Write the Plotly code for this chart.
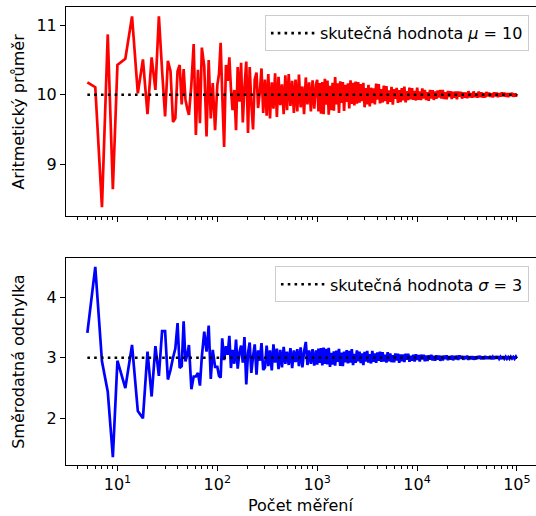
import plotly.graph_objects as go

# ---- data ----
N_MERENI = [5,6,7,8,9,10,12,14,16,18,20,22,24,26,28,30,32,34,36,38,40,42,44,46,48,50,
            52,55,58,61,64,67,70,74,78,82,86,90,95,
            100,104,108,112,117,122,127,132,137,142,148,154,160,167,173,180,187,195,203,211,
            219,228,237,247,256,267,277,288,300,312,324,337,351,365,379,395,410,427,444,462,
            480,499,519,540,562,584,607,632,657,683,711,739,769,799,831,865,899,935,973,
            1000,1030,1061,1093,1126,1159,1194,1230,1267,1305,
            1344,1384,1426,1469,1513,1558,1605,1653,1702,1754,
            1806,1860,1916,1974,2033,2094,2157,2221,2288,2357,
            2427,2500,2575,2652,2732,2814,2898,2985,3075,3167,
            3262,3360,3461,3565,3671,3782,3895,4012,4132,4256,
            4384,4515,4651,4790,4934,5082,5235,5392,5553,5720,
            5891,6068,6250,6438,6631,6830,7034,7245,7463,7687,
            7917,8155,8399,8651,8911,9178,9454,9737,10030,10330,
            10640,10960,11290,11630,11970,12330,12700,13080,13480,13880,
            14300,14730,15170,15620,16090,16570,17070,17580,18110,18650,
            19210,19790,20380,20990,21620,22270,22940,23630,24340,25070,
            25820,26590,27390,28210,29060,29930,30830,31750,32710,33690,
            34700,35740,36810,37920,39050,40230,41430,42680,43960,45280,
            46630,48030,49470,50960,52490,54060,55680,57350,59070,60850,
            62670,64550,66490,68480,70540,72650,74830,77080,79390,81770,
            84230,86750,89360,92040,94800,97640,100000]

PRUMER = [10.18,10.11,8.38,10.87,8.64,10.43,10.52,11.13,10.02,10.51,9.72,10.54,10.07,11.13,10.35,9.69,
          10.49,10.34,9.61,9.66,10.34,10.43,9.86,10.37,9.93,9.80,
          9.71,10.15,10.73,9.42,10.36,9.59,10.68,10.41,9.40,10.50,9.66,10.17,9.49,
          10.14,10.30,10.75,10.02,9.25,10.43,10.20,10.54,10.08,9.78,10.07,9.49,10.40,9.90,10.46,9.60,
          10.10,10.48,9.45,10.40,9.88,9.50,10.22,10.32,9.81,10.05,10.38,9.74,
          10.22,9.70,10.30,9.66,10.18,9.80,10.31,9.68,10.26,9.85,
          10.15,9.72,10.28,9.78,10.30,9.84,10.20,9.74,10.22,9.76,
          10.29,9.82,10.12,9.72,10.25,9.86,10.18,9.76,10.21,9.80,10.15,
          10.215,9.761,10.168,9.729,10.184,9.721,10.231,9.856,10.207,9.713,
          10.131,9.779,10.173,9.772,10.255,9.862,10.166,9.738,10.193,9.883,
          10.184,9.768,10.143,9.899,10.166,9.804,10.208,9.869,10.172,9.846,
          10.190,9.872,10.185,9.887,10.154,9.908,10.174,9.820,10.097,9.861,
          10.142,9.831,10.102,9.880,10.093,9.862,10.160,9.929,10.155,9.876,
          10.081,9.889,10.131,9.908,10.127,9.866,10.065,9.900,10.115,9.858,
          10.083,9.941,10.099,9.884,10.066,9.894,10.096,9.921,10.119,9.891,
          10.051,9.924,10.104,9.935,10.096,9.927,10.056,9.918,10.102,9.929,
          10.047,9.924,10.091,9.946,10.069,9.924,10.039,9.914,10.069,9.946,
          10.067,9.926,10.050,9.943,10.063,9.960,10.071,9.945,10.069,9.939,
          10.038,9.935,10.054,9.969,10.050,9.941,10.043,9.959,10.049,9.937,
          10.048,9.972,10.045,9.945,10.034,9.959,10.031,9.950,10.053,9.964,
          10.026,9.959,10.049,9.966,10.024,9.958,10.046,9.967,10.037,9.961,
          10.025,9.961,10.041,9.977,10.033,9.970,10.020,9.963,10.036,9.978,
          10.030,9.967,10.023,9.975,10.036,9.979,10.029,9.973,10.022,9.966,
          10.025,9.984,10.028,9.973,10.020,9.976,10.015]

SMER_ODCHYLKA = [3.41,4.50,2.94,2.44,1.36,2.95,2.50,3.21,2.12,2.00,3.10,2.36,3.19,2.70,3.44,3.44,
                 2.64,2.80,3.00,3.15,3.57,2.83,2.86,3.60,2.94,3.05,
                 3.21,2.48,2.69,2.69,2.75,2.54,3.02,3.43,3.10,3.53,2.65,3.13,2.85,
                 2.85,2.70,2.67,3.32,2.96,3.19,3.05,3.36,2.83,3.13,2.90,3.30,2.82,3.10,3.20,2.92,
                 3.34,2.56,3.08,3.25,2.75,3.02,3.22,2.72,3.12,2.95,3.24,2.80,
                 2.84,3.20,2.86,3.12,2.79,3.22,2.92,3.15,2.81,3.13,
                 2.84,3.18,2.90,3.10,2.88,3.16,2.83,3.12,2.93,3.14,
                 2.86,3.17,2.84,3.10,3.26,2.88,3.12,2.90,3.14,2.87,3.12,
                 2.885,3.149,2.914,3.158,2.875,3.168,2.899,3.144,2.890,3.163,
                 2.849,3.080,2.887,3.105,2.870,3.118,2.933,3.147,2.866,3.084,
                 2.862,3.100,2.922,3.126,2.907,3.112,2.918,3.141,2.877,3.063,
                 2.914,3.119,2.941,3.102,2.911,3.073,2.878,3.096,2.937,3.112,
                 2.919,3.058,2.905,3.112,2.934,3.069,2.914,3.089,2.951,3.101,
                 2.934,3.093,2.937,3.050,2.919,3.091,2.942,3.071,2.927,3.040,
                 2.924,3.069,2.955,3.065,2.916,3.052,2.942,3.052,2.929,3.065,
                 2.967,3.065,2.933,3.032,2.953,3.050,2.937,3.058,2.963,3.043,
                 2.938,3.050,2.972,3.047,2.942,3.036,2.945,3.042,2.969,3.049,
                 2.954,3.029,2.952,3.039,2.970,3.037,2.949,3.033,2.957,3.035,
                 2.977,3.038,2.960,3.025,2.969,3.035,2.958,3.029,2.976,3.032,
                 2.965,3.037,2.982,3.029,2.968,3.023,2.983,3.033,2.965,3.021,
                 2.977,3.025,2.968,3.020,2.973,3.026,2.985,3.030,2.976,3.017,
                 2.976,3.027,2.983,3.019,2.980,3.026,2.977,3.014,2.978,3.025,
                 2.987,3.024,2.982,3.014,2.980,3.023,2.985,3.017,2.983,3.011,
                 2.981,3.017,2.988,3.014,2.984,3.019,2.990]

if not (len(N_MERENI) == len(PRUMER) == len(SMER_ODCHYLKA)):
    raise SystemExit("length mismatch %d %d %d" % (len(N_MERENI), len(PRUMER), len(SMER_ODCHYLKA)))

MU = 10
SIGMA = 3
X_TICKS = [10, 100, 1000, 10000, 100000]
X_TICK_TEXT = ["10<sup>1</sup>", "10<sup>2</sup>", "10<sup>3</sup>", "10<sup>4</sup>", "10<sup>5</sup>"]
X_MINOR = [4,5,6,7,8,9,20,30,40,50,60,70,80,90,200,300,400,500,600,700,800,900,
           2000,3000,4000,5000,6000,7000,8000,9000,20000,30000,40000,50000,60000,70000,80000,90000]
Y1_TICKS = [9, 10, 11]
Y2_TICKS = [2, 3, 4]

FONT = "DejaVu Sans"
FS = 16

fig = go.Figure()

fig.add_trace(go.Scatter(x=N_MERENI, y=PRUMER, mode="lines",
                         line=dict(color="#ff0000", width=2.7, simplify=False),
                         showlegend=False, hoverinfo="skip", xaxis="x", yaxis="y"))
fig.add_trace(go.Scatter(x=[N_MERENI[0], N_MERENI[-1]], y=[MU, MU], mode="lines",
                         line=dict(color="black", width=2.6, dash="2.6px,4.2px"),
                         name="skutečná hodnota <i>μ</i> = 10", legend="legend",
                         hoverinfo="skip", xaxis="x", yaxis="y"))
fig.add_trace(go.Scatter(x=N_MERENI, y=SMER_ODCHYLKA, mode="lines",
                         line=dict(color="#0000ff", width=2.7, simplify=False),
                         showlegend=False, hoverinfo="skip", xaxis="x2", yaxis="y2"))
fig.add_trace(go.Scatter(x=[N_MERENI[0], N_MERENI[-1]], y=[SIGMA, SIGMA], mode="lines",
                         line=dict(color="black", width=2.6, dash="2.6px,4.2px"),
                         name="skutečná hodnota <i>σ</i> = 3", legend="legend2",
                         hoverinfo="skip", xaxis="x2", yaxis="y2"))

xcommon = dict(type="log", range=[0.485, 5.191], showgrid=False, zeroline=False,
               showline=True, linecolor="black", linewidth=1, mirror=True,
               ticks="outside", ticklen=5, tickwidth=1.1, tickcolor="black",
               tickmode="array", tickvals=X_TICKS, ticktext=X_TICK_TEXT,
               minor=dict(ticks="outside", ticklen=3, tickwidth=0.8, tickcolor="black",
                          tickmode="array", tickvals=X_MINOR, showgrid=False),
               tickfont=dict(family=FONT, size=FS, color="black"))
ycommon = dict(showgrid=False, zeroline=False, showline=True, linecolor="black", linewidth=1,
               mirror=False, ticks="outside", ticklen=5, tickwidth=1.1, tickcolor="black",
               tickfont=dict(family=FONT, size=FS, color="black"))

legend_style = dict(xanchor="right", yanchor="top", itemwidth=44,
                    bgcolor="rgba(255,255,255,0.8)", bordercolor="#cccccc", borderwidth=1,
                    font=dict(family=FONT, size=FS, color="black"))

fig.update_layout(
    width=536, height=516,
    margin=dict(l=66, r=0, t=7, b=51),
    paper_bgcolor="white", plot_bgcolor="white",
    font=dict(family=FONT, size=FS, color="black"),
    hovermode=False,
    xaxis=dict(**xcommon, anchor="y", domain=[0, 1], showticklabels=False),
    yaxis=dict(**ycommon, anchor="x", domain=[0.5437, 1.0], range=[8.254, 11.265],
               tickmode="array", tickvals=Y1_TICKS),
    xaxis2=dict(**xcommon, anchor="y2", domain=[0, 1], matches="x"),
    yaxis2=dict(**ycommon, anchor="x2", domain=[0, 0.4513], range=[1.23, 4.64],
                tickmode="array", tickvals=Y2_TICKS),
    legend=dict(x=0.985, y=0.982, **legend_style),
    legend2=dict(x=0.985, y=0.4336, **legend_style),
    annotations=[
        dict(text="Aritmetický průměr", xref="paper", yref="paper", x=-0.1018, y=0.772,
             textangle=-90, showarrow=False, xanchor="center", yanchor="middle",
             font=dict(family=FONT, size=FS, color="black")),
        dict(text="Směrodatná odchylka", xref="paper", yref="paper", x=-0.1018, y=0.2257,
             textangle=-90, showarrow=False, xanchor="center", yanchor="middle",
             font=dict(family=FONT, size=FS, color="black")),
        dict(text="Počet měření", xref="paper", yref="paper", x=0.5, y=-0.0895,
             showarrow=False, xanchor="center", yanchor="middle",
             font=dict(family=FONT, size=FS, color="black")),
    ],
)

fig.write_html("out.html", config={"displayModeBar": False},
               post_script="document.body.style.margin='0';document.body.style.overflow='hidden';")
